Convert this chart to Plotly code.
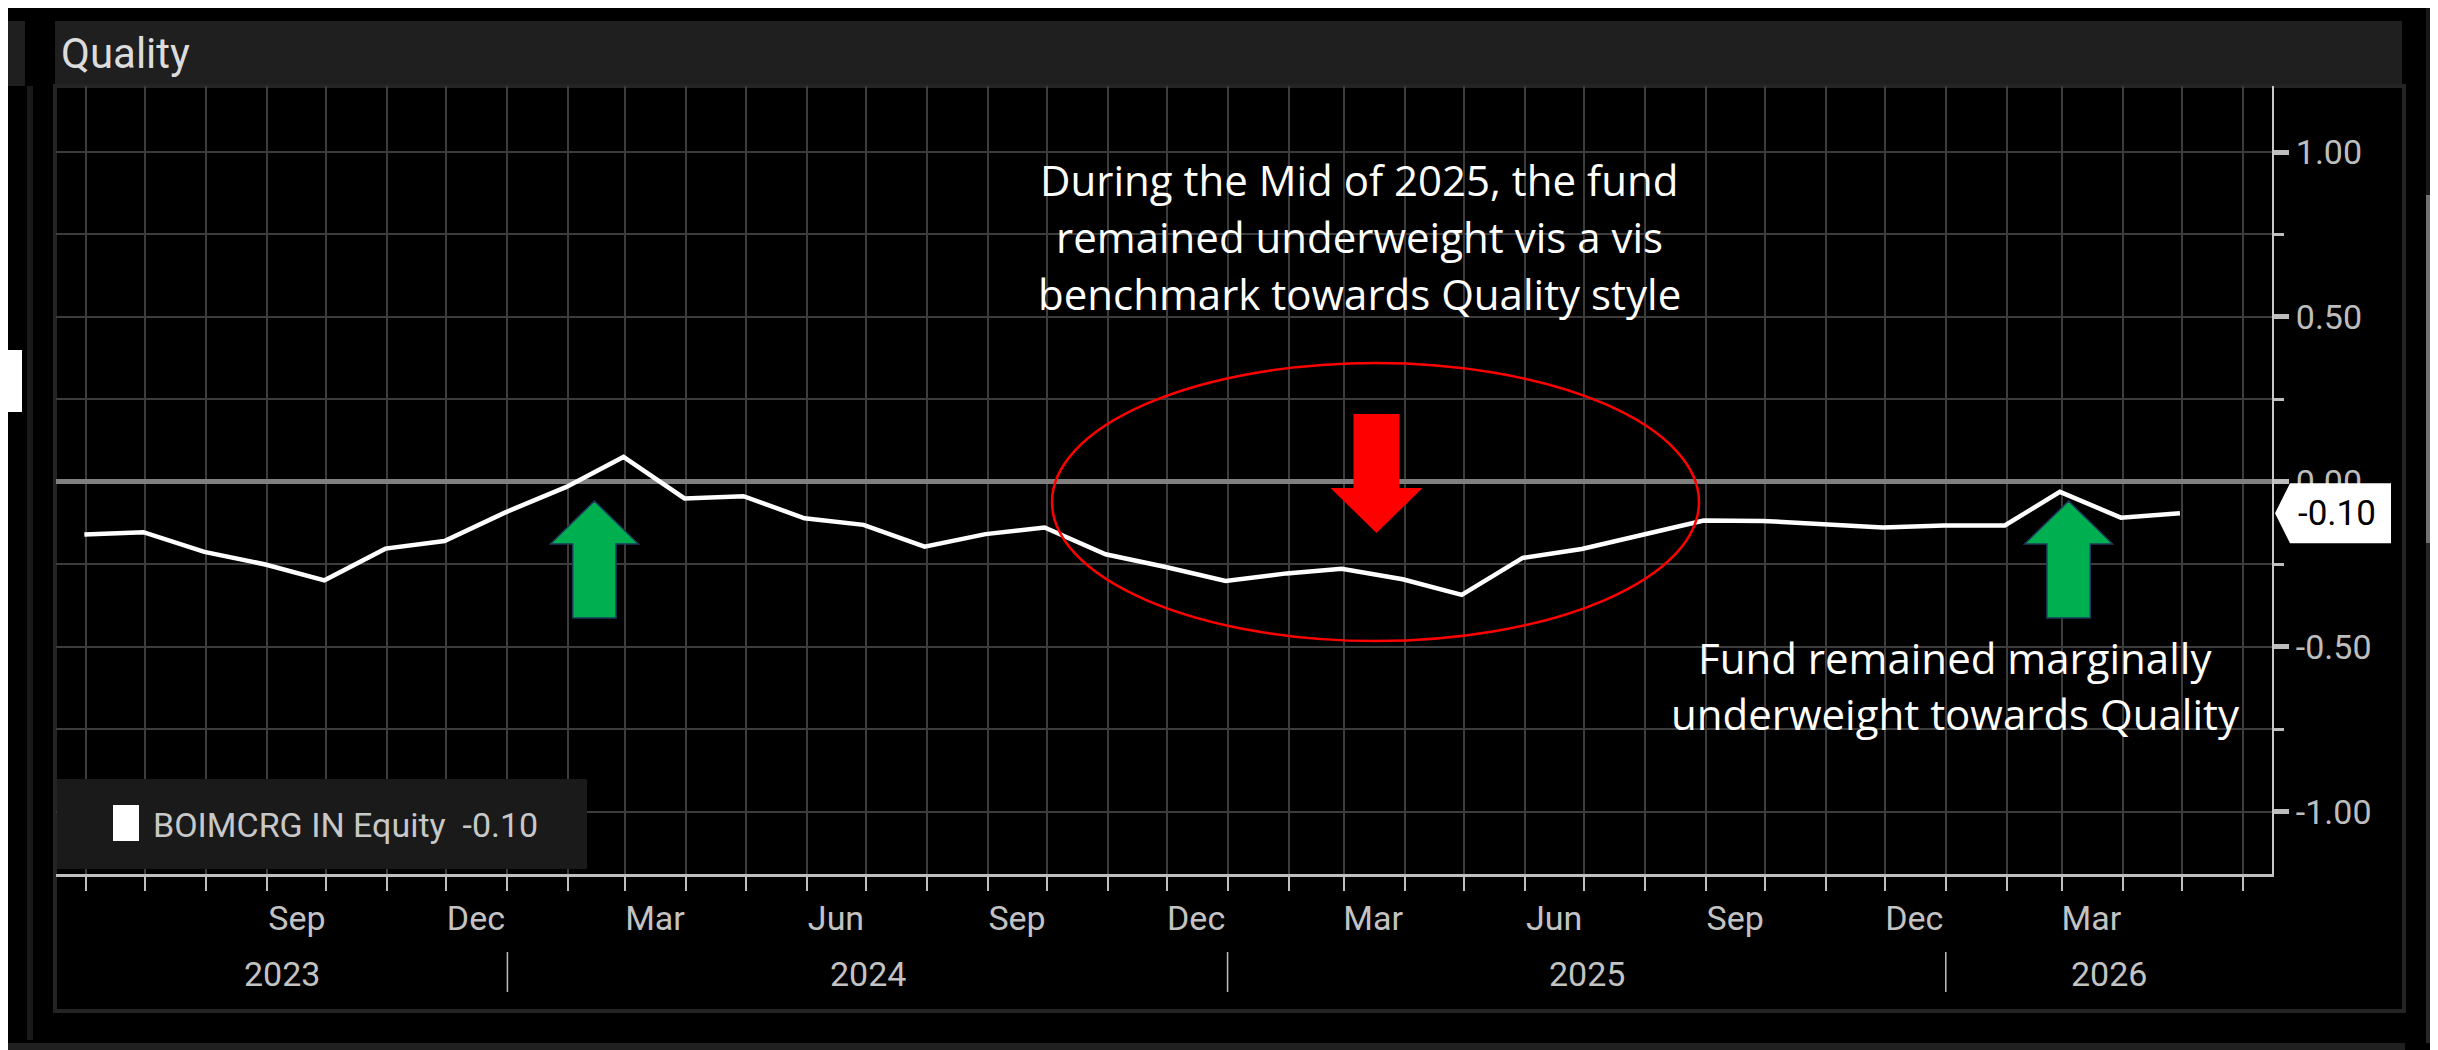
import plotly.graph_objects as go
import pandas as pd

# ---------------- data ----------------
dates = list(pd.date_range("2023-05-31", periods=36, freq="ME").strftime("%Y-%m-%d"))
values = [-0.159, -0.152, -0.212, -0.250, -0.298, -0.202, -0.179, -0.092, -0.015, 0.076,
          -0.050, -0.043, -0.110, -0.130, -0.196, -0.158, -0.138, -0.219, -0.257, -0.300,
          -0.277, -0.263, -0.295, -0.342, -0.230, -0.203, -0.160, -0.117, -0.118, -0.128,
          -0.138, -0.132, -0.132, -0.030, -0.108, -0.095]
series_name = "BOIMCRG IN Equity"
last_label = "-0.10"
title_text = "Quality"

month_tick_dates = ["2023-09-16", "2023-12-16", "2024-03-16", "2024-06-16", "2024-09-16",
                    "2024-12-16", "2025-03-16", "2025-06-16", "2025-09-16", "2025-12-16",
                    "2026-03-16"]
month_tick_labels = ["Sep", "Dec", "Mar", "Jun", "Sep", "Dec", "Mar", "Jun", "Sep", "Dec", "Mar"]
year_labels = ["2023", "2024", "2025", "2026"]
year_breaks = ["2024-01-01", "2025-01-01", "2026-01-01"]
y_tick_vals = [-1.0, -0.5, 0.0, 0.5, 1.0]
y_tick_text = ["-1.00", "-0.50", "0.00", "0.50", "1.00"]

x_range = ["2023-05-16 14:00", "2026-06-15 19:00"]
y_range = [-1.188, 1.2]

note_mid = ["During the Mid of 2025, the fund",
            "remained underweight vis a vis",
            "benchmark towards Quality style"]
note_right = ["Fund remained marginally",
              "underweight towards Quality"]

# ---------------- layout helpers ----------------
# positions below are given in page pixels; the page body adds an 8px margin
OFF = 8
W, H = 2438 - OFF, 1050 - OFF
L, R, T, B = 56, 2272, 86, 874
NARROW = "Roboto, Open Sans, sans-serif"
NOTE_FONT = "Open Sans, Lato, sans-serif"


def px_x(p):
    return (p - L) / (R - L)


def px_y(p):
    return (B - p) / (B - T)


def poly(points):
    return "M " + " L ".join(f"{px_x(x):.5f},{px_y(y):.5f}" for x, y in points) + " Z"


def up_arrow(cx, tip, base, bottom, hh, sh):
    return poly([(cx, tip), (cx + hh, base), (cx + sh, base), (cx + sh, bottom),
                 (cx - sh, bottom), (cx - sh, base), (cx - hh, base)])


def down_arrow(cx, tip, base, top, hh, sh):
    return poly([(cx, tip), (cx + hh, base), (cx + sh, base), (cx + sh, top),
                 (cx - sh, top), (cx - sh, base), (cx - hh, base)])


fig = go.Figure()
fig.add_trace(go.Scatter(x=dates, y=values, mode="lines", name=series_name,
                         line=dict(color="#ffffff", width=4.5), hoverinfo="skip",
                         showlegend=False))

fig.update_layout(
    width=W, height=H,
    margin=dict(l=L - OFF, r=(W + OFF) - R, t=T - OFF, b=(H + OFF) - B, pad=0),
    paper_bgcolor="#000000", plot_bgcolor="#000000",
    showlegend=False,
)

fig.update_xaxes(
    type="date", range=x_range, fixedrange=True,
    tickmode="array", tickvals=month_tick_dates, ticktext=month_tick_labels,
    ticks="", showgrid=False, zeroline=False,
    showline=True, linecolor="#bfbfbf", linewidth=3,
    tickfont=dict(family=NARROW, size=34, color="#c3c3c3"),
    ticklabelstandoff=12,
    minor=dict(tickmode="linear", tick0="2023-06-01", dtick="M1",
               ticks="outside", ticklen=14, tickwidth=2, tickcolor="#bfbfbf",
               showgrid=True, gridcolor="#3c3c3c", gridwidth=2),
)

fig.update_yaxes(
    range=y_range, side="right", fixedrange=True,
    tickmode="array", tickvals=y_tick_vals, ticktext=y_tick_text,
    ticks="outside", ticklen=15, tickwidth=5, tickcolor="#bdbdbd",
    showgrid=True, gridcolor="#3c3c3c", gridwidth=2,
    zeroline=True, zerolinecolor="#808080", zerolinewidth=5,
    showline=True, linecolor="#c8c8c8", linewidth=2,
    tickfont=dict(family=NARROW, size=34, color="#bdbdbd"),
    ticklabelstandoff=0,
    minor=dict(tickmode="linear", tick0=0, dtick=0.25,
               ticks="outside", ticklen=10, tickwidth=3, tickcolor="#bdbdbd",
               showgrid=True, gridcolor="#3c3c3c", gridwidth=2),
)

shapes = []
# frame decorations
shapes.append(dict(type="rect", xref="paper", yref="paper", x0=px_x(55), x1=px_x(2402), y0=px_y(86), y1=px_y(21),
                   fillcolor="#1f1f1f", line=dict(width=0), layer="below"))
shapes.append(dict(type="rect", xref="paper", yref="paper", x0=px_x(8), x1=px_x(25), y0=px_y(86), y1=px_y(21),
                   fillcolor="#1f1f1f", line=dict(width=0), layer="below"))
shapes.append(dict(type="rect", xref="paper", yref="paper", x0=px_x(55), x1=px_x(2404), y0=px_y(1011), y1=px_y(86),
                   fillcolor="rgba(0,0,0,0)", line=dict(color="#242424", width=4), layer="below"))
shapes.append(dict(type="rect", xref="paper", yref="paper", x0=px_x(27), x1=px_x(33), y0=px_y(1040), y1=px_y(86),
                   fillcolor="#1a1a1a", line=dict(width=0), layer="below"))
shapes.append(dict(type="rect", xref="paper", yref="paper", x0=px_x(0), x1=px_x(22), y0=px_y(412), y1=px_y(350),
                   fillcolor="#ffffff", line=dict(width=0), layer="below"))
shapes.append(dict(type="rect", xref="paper", yref="paper", x0=px_x(0), x1=px_x(2405), y0=px_y(1050), y1=px_y(1043),
                   fillcolor="#202020", line=dict(width=0), layer="below"))
shapes.append(dict(type="rect", xref="paper", yref="paper", x0=px_x(2426), x1=px_x(2438), y0=px_y(195), y1=px_y(8),
                   fillcolor="#181818", line=dict(width=0), layer="below"))
shapes.append(dict(type="rect", xref="paper", yref="paper", x0=px_x(2426), x1=px_x(2438), y0=px_y(543), y1=px_y(195),
                   fillcolor="#707070", line=dict(width=0), layer="below"))
shapes.append(dict(type="rect", xref="paper", yref="paper", x0=px_x(2426), x1=px_x(2438), y0=px_y(1043), y1=px_y(543),
                   fillcolor="#262626", line=dict(width=0), layer="below"))

# year separators on the x axis
for d in year_breaks:
    shapes.append(dict(type="line", xref="x", yref="paper", x0=d, x1=d, y0=px_y(952), y1=px_y(992),
                       line=dict(color="#bdbdbd", width=1.5)))

# legend box
shapes.append(dict(type="rect", xref="paper", yref="paper", x0=px_x(57), x1=px_x(587), y0=px_y(869), y1=px_y(779),
                   fillcolor="#1a1a1a", line=dict(width=0), layer="above"))
shapes.append(dict(type="rect", xref="paper", yref="paper", x0=px_x(113), x1=px_x(139), y0=px_y(841), y1=px_y(805),
                   fillcolor="#ffffff", line=dict(width=0), layer="above"))

# red ellipse and red down arrow
shapes.append(dict(type="circle", xref="paper", yref="paper", x0=px_x(1052), x1=px_x(1699), y0=px_y(641), y1=px_y(363),
                   line=dict(color="#ff0000", width=2.5), fillcolor="rgba(0,0,0,0)", layer="above"))
shapes.append(dict(type="path", xref="paper", yref="paper", path=down_arrow(1376.5, 533, 488, 414, 46, 23),
                   fillcolor="#ff0000", line=dict(width=0), layer="above"))

# green up arrows
for cx in (594.4, 2068.6):
    shapes.append(dict(type="path", xref="paper", yref="paper", path=up_arrow(cx, 501, 544, 618, 44, 21.7),
                       fillcolor="#00b050", line=dict(color="#1f3a5a", width=1.5), layer="above"))

# last-value label box pointing at the axis
last_val = values[-1]
half = 30 / (B - T) * (y_range[1] - y_range[0])
box_path = (f"M {px_x(2275):.5f},{last_val:.5f} L {px_x(2290):.5f},{last_val + half:.5f} "
            f"L {px_x(2391):.5f},{last_val + half:.5f} L {px_x(2391):.5f},{last_val - half:.5f} "
            f"L {px_x(2290):.5f},{last_val - half:.5f} Z")
shapes.append(dict(type="path", xref="paper", yref="y", path=box_path,
                   fillcolor="#ffffff", line=dict(width=0), layer="above"))

fig.update_layout(shapes=shapes)

ann = []
ann.append(dict(text=title_text, xref="paper", yref="paper", x=px_x(59), y=px_y(53), xanchor="left",
                yanchor="middle", showarrow=False, font=dict(family=NARROW, size=42, color="#dcdcdc")))
for i, line in enumerate(note_mid):
    ann.append(dict(text=line, xref="paper", yref="paper", x=px_x(1359), y=px_y(180 + 56.7 * i),
                    xanchor="center", yanchor="middle", showarrow=False,
                    font=dict(family=NOTE_FONT, size=42, color="#ffffff")))
for i, line in enumerate(note_right):
    ann.append(dict(text=line, xref="paper", yref="paper", x=px_x(1955), y=px_y(657 + 56.7 * i),
                    xanchor="center", yanchor="middle", showarrow=False,
                    font=dict(family=NOTE_FONT, size=42, color="#ffffff")))
ann.append(dict(text=f"{series_name}  {last_label}", xref="paper", yref="paper", x=px_x(151), y=px_y(825),
                xanchor="left", yanchor="middle", showarrow=False,
                font=dict(family=NARROW, size=34, color="#c8c8c8")))
ann.append(dict(text=last_label, xref="paper", yref="y", x=px_x(2337), y=last_val,
                xanchor="center", yanchor="middle", showarrow=False,
                font=dict(family=NARROW, size=35, color="#000000")))

# year labels centred over the visible part of each year
rs, re_ = pd.Timestamp(x_range[0]), pd.Timestamp(x_range[1])
for yl in year_labels:
    a = max(rs, pd.Timestamp(f"{yl}-01-01"))
    b = min(re_, pd.Timestamp(f"{int(yl) + 1}-01-01"))
    mid = a + (b - a) / 2
    ann.append(dict(text=yl, xref="x", yref="paper", x=mid.strftime("%Y-%m-%d %H:%M"), y=px_y(974),
                    xanchor="center", yanchor="middle", showarrow=False,
                    font=dict(family=NARROW, size=34, color="#c3c3c3")))

fig.update_layout(annotations=ann)

fig.write_html("out.html")
